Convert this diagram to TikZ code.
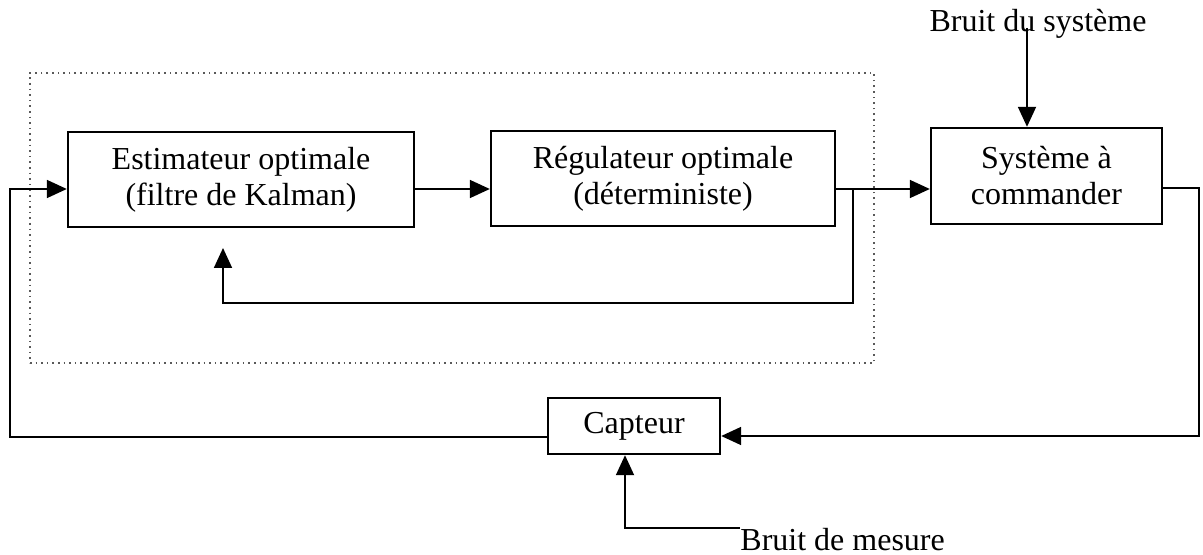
\documentclass[tikz,border=0pt]{standalone}
\usepackage{fontspec}
\setmainfont{Liberation Serif}
\usetikzlibrary{arrows.meta}
\begin{document}
\begin{tikzpicture}[x=0.5pt,y=-0.5pt,
  blk/.style={draw,line width=1.2pt,inner sep=0pt,align=center,font=\fontsize{16}{18}\selectfont},
  grp/.style={draw=black!65,dotted,line width=0.8pt,inner sep=0pt},
  conn/.style={line width=0.9pt},
  arr/.style={conn,-{Triangle[length=10pt,width=9pt]}},
  lbl/.style={inner sep=0pt,font=\fontsize{16}{18}\selectfont}]
\useasboundingbox[fill=white] (0,0) rectangle (1203,555);
% group
\node[grp,minimum width=422pt,minimum height=145pt] (grp) at (452,218) {};
% blocks
\node[blk,minimum width=173pt,minimum height=47.5pt] (est) at (241,179.5) {Estimateur optimale\\(filtre de Kalman)};
\node[blk,minimum width=172pt,minimum height=47.5pt] (reg) at (663,178.5) {Régulateur optimale\\(déterministe)};
\node[blk,minimum width=115.5pt,minimum height=48pt] (sys) at (1046.5,176) {Système à\\commander};
\node[blk,minimum width=86pt,minimum height=28pt] (cap) at (634,426) {Capteur};
% labels
\node[lbl,anchor=base] (bs) at (1038,32) {Bruit du système};
\node[lbl,anchor=base west] (bm) at (740,550) {Bruit de mesure};
% helper coordinates
\coordinate (lv) at (0,189);
\coordinate (cy) at (0,436);
\coordinate (fbR) at (853,303);
\coordinate (fbT) at (223,248);
\coordinate (lx) at (10,437);
\coordinate (rx) at (1199,188);
\coordinate (bsx) at (1027,28);
\coordinate (mx) at (625,528);
% connectors
\draw[arr] (est.east |- lv) -- (reg.west |- lv);
\draw[arr] (reg.east |- lv) -- (sys.west |- lv);
\draw[arr] (fbR |- lv) -- (fbR) -| (fbT);
\draw[arr] (cap.west |- lx) -- (lx) |- (est.west |- lv);
\draw[arr] (sys.east |- rx) -- (rx) |- (cap.east |- cy);
\draw[arr] (bsx) -- (bsx |- sys.north);
\draw[arr] (bm.west |- mx) -- (mx) -- (mx |- cap.south);
\end{tikzpicture}
\end{document}
